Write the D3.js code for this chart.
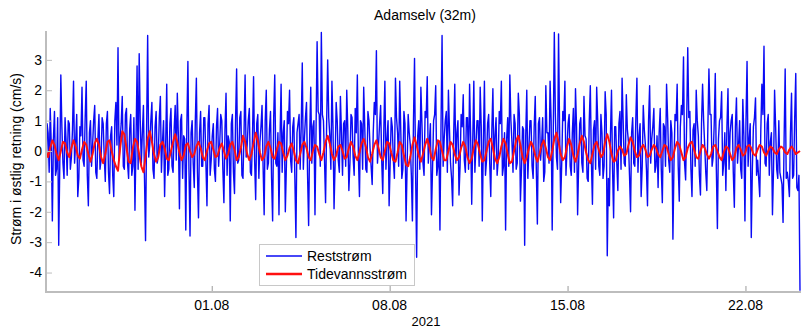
<!DOCTYPE html>
<html>
<head>
<meta charset="utf-8">
<script src="https://cdn.jsdelivr.net/npm/d3@7"></script>
<style>
  html, body { margin: 0; padding: 0; background: #fff; }
  svg { display: block; font-family: "Liberation Sans", Arial, sans-serif; }
</style>
</head>
<body>
<svg id="chart" width="801" height="329"></svg>
<script>
// ---- data ----
const title = "Adamselv (32m)";
const yLabel = "Strøm i østlig retning (cm/s)";
const xLabel = "2021";
const seriesNames = ["Reststrøm", "Tidevannsstrøm"];
const startTime = "2021-07-25T11:30:00Z";   // first sample
const stepHours = 2;                         // interval of the main samples
const xDomain = ["2021-07-25T11:30:00Z", "2021-08-24T03:30:00Z"];
const xTickDates = ["2021-08-01", "2021-08-08", "2021-08-15", "2021-08-22"];
const xTickLabels = ["01.08", "08.08", "15.08", "22.08"];
const yTicks = [-4, -3, -2, -1, 0, 1, 2, 3];
const yDomain = [-4.64, 3.95];

// Reststrøm (residual current), cm/s, samples at even hours
const reststrom = [
 -1.5, 0.6, 1.4, -2.3, 1.3, -0.6, -3.1, 2.5, -0.4, 1.1,
 -0.8, 0.9, -0.2, 2.3, 0.3, -1.5, 0.8, 2.1, -0.5, 2.3,
 -1.8, 1.0, 0.2, 1.5, -0.9, 1.2, -0.3, 0.9, -1.0, 1.3,
 -1.4, 0.8, -1.5, 1.6, 3.4, 0.4, 1.8, -0.6, 1.4, -0.9,
 1.2, -0.5, -1.95, 2.8, 3.2, -0.4, 1.5, -2.95, 3.8, 0.2,
 1.6, -0.9, 1.3, -0.2, 1.8, 0.3, -1.5, 2.2, -0.6, 1.4,
 -0.7, 1.5, 1.9, -1.9, 1.2, 0.5, -2.6, 2.95, -2.8, 1.0,
 -1.2, 2.4, -2.2, 1.3, -0.5, 1.1, -1.8, 1.5, -0.3, 0.9,
 -1.0, 1.4, 0.2, 1.0, -1.7, 1.9, 0.5, -2.3, 1.2, -1.4,
 2.7, -0.3, 1.3, -0.9, 2.5, 0.2, 1.4, -0.8, 2.45, -1.6,
 1.2, 0.3, 1.5, -2.1, 2.0, -0.4, 1.3, -2.3, 2.5, -0.5,
 -2.1, 2.2, 0.6, -2.0, 1.3, 2.0, -0.7, 1.1, -2.85, 0.9,
 -0.6, 2.9, 0.4, 1.6, -2.45, 2.1, 0.8, -2.1, 3.6, 1.2,
 3.9, 1.0, -1.7, 3.0, 0.5, 2.3, -1.9, 1.6, -0.3, 1.8,
 -0.8, 1.0, 2.0, -1.3, 1.2, -0.2, 1.4, 2.5, -1.5, 0.9,
 2.1, -0.6, 1.3, 0.1, -1.1, 1.6, 3.3, 0.2, 1.5, -1.4,
 2.3, 0.4, -1.8, 1.1, -0.3, 2.4, 0.6, 2.3, -0.9, 1.3,
 -2.3, 1.2, 0.2, -2.3, 3.05, -3.5, 1.0, 2.1, -0.4, 1.3,
 2.45, 0.3, -2.1, 1.0, 2.15, -0.5, -2.6, 3.8, 0.4, 1.3,
 2.0, -0.4, -1.8, 2.2, 0.6, -1.45, 1.2, 1.85, -0.7, 1.1,
 2.2, -1.75, 2.3, 0.2, 1.0, 2.1, -2.3, 2.3, -0.3, 1.2,
 -1.5, 2.05, 0.5, -0.8, 1.3, 2.3, -0.5, -2.6, 1.1, 2.5,
 0.3, 1.2, -0.6, 1.9, -1.65, 0.8, -3.1, 2.0, 0.1, 1.0,
 -0.9, 1.8, -2.4, 1.1, 0.2, -1.0, 2.15, 0.6, 2.3, -2.6,
 3.9, -0.2, 3.85, -1.7, 1.3, 2.3, 0.1, 1.2, -0.8, 1.4,
 2.05, -2.1, 0.9, -0.4, 1.8, 0.4, -1.0, 2.15, -1.75, 1.0,
 2.1, -0.5, 1.2, -0.9, 1.95, -3.45, -1.8, 2.0, -2.2, 0.8,
 -1.3, 1.3, 2.4, -0.4, 1.85, 0.3, -2.0, 1.1, -0.5, 2.4,
 0.5, -1.5, 1.5, 0.2, -1.8, 2.15, 0.4, 1.4, -0.5, -1.2,
 1.4, -1.7, 0.8, 2.2, -0.3, 1.0, -2.9, 1.2, 2.2, -1.65,
 1.5, 3.1, -0.95, 3.4, 1.3, -1.5, 0.9, 2.0, 0.5, -1.45,
 2.2, 0.2, -1.3, 2.7, 1.2, -0.2, 2.55, -2.55, 1.0, 1.95,
 -0.4, -1.3, 2.05, 0.6, 1.2, -1.85, 1.75, 0.2, -0.6, 1.7,
 -2.3, 2.95, 0.4, -2.85, 0.8, 1.75, -0.3, -1.5, 2.2, 3.45,
 -0.5, 1.2, 0.3, -2.1, 2.0, -0.6, 1.0, -0.9, -2.35, 2.7,
 -0.7, -1.5, 1.9, -0.8, 2.55, -1.3, -4.6
];

// Reststrøm samples at the odd hours in between (dense core of the band)
const reststromMid = [
 0.9, -0.7, 0.2, 0.4, -0.8, 1.1, -0.5, 0.8, -0.9, 0.3,
 1.0, -0.6, 0.7, -0.4, 1.2, -0.9, 0.5, -0.3, 1.1, -0.8,
 0.6, -0.5, 1.0, -0.7, 0.4, -0.6, 1.1, -0.2, 0.9, -0.7,
 0.5, -0.8, 1.0, 0.2, -0.3, 0.9, -0.5, 1.2, -0.4, 0.7,
 -0.8, 1.1, 0.3, -0.6, 1.0, 0.6, -0.9, 0.7, -0.2, 1.0,
 -0.6, 0.8, -0.4, 1.1, -0.7, 1.0, 0.2, -0.8, 0.9, -0.5,
 0.7, -0.3, 0.5, 1.0, -0.9, 0.4, 0.8, -0.6, 0.6, -0.4,
 1.0, -0.7, 0.6, -0.5, 1.1, -0.4, 0.9, -0.8, 0.5, -0.6,
 0.8, -0.5, 1.2, -0.6, 0.7, -0.8, 0.3, 0.9, -0.7, 1.0,
 -0.4, 1.1, -0.8, 0.6, -0.2, 1.0, -0.7, 0.5, -0.3, 0.9,
 -0.9, 0.8, -0.5, 1.0, -0.6, 0.7, -0.9, 1.1, -0.4, 0.6,
 0.4, -0.7, 1.0, -0.5, 0.9, -0.3, 0.8, -0.9, 0.6, 1.2,
 0.8, -0.6, 1.1, -0.8, 0.5, -0.4, 1.0, 0.7, 1.3, -0.5,
 1.2, -0.3, 0.9, 1.1, -0.6, 0.8, -0.4, 1.0, -0.7, 0.6,
 0.9, -0.5, 0.7, -0.4, 1.1, -0.8, 0.6, -0.2, 1.0, -0.6,
 0.8, -0.7, 1.0, -0.5, 0.6, 1.2, -0.4, 0.9, -0.3, 0.7,
 -0.6, 1.0, -0.4, 0.8, -0.9, 1.1, -0.5, 0.7, -0.6, 0.9,
 -0.5, 0.6, -0.8, 1.0, -0.7, 0.5, -0.6, 0.9, -0.8, 1.1,
 -0.4, 0.9, -0.6, 1.2, -0.8, 0.3, 0.8, -0.5, 1.0, -0.7,
 0.7, -0.9, 0.6, -0.4, 1.0, -0.5, 0.8, -0.3, 1.1, -0.6,
 0.5, 0.4, -0.7, 1.0, -0.5, 0.8, 0.3, -0.8, 0.9, -0.4,
 0.7, -0.6, 1.1, -0.3, 0.9, -0.8, 0.6, 0.4, -0.5, 1.0,
 -0.7, 0.9, -0.4, 1.2, -0.6, 0.7, 0.5, -0.9, 1.0, -0.5,
 0.8, -0.6, 0.9, -0.3, 1.1, -0.7, 0.6, -0.4, 1.0, 0.6,
 1.2, -0.6, 0.7, -0.4, 1.0, -0.8, 0.9, -0.5, 0.6, -0.7,
 0.8, -0.4, 1.1, -0.7, 0.5, -0.9, 1.0, -0.3, 0.7, -0.6,
 1.0, -0.8, 0.6, -0.5, 1.2, -0.9, 0.5, -0.6, 0.8, -0.4,
 0.9, -0.6, 1.0, -0.5, 0.7, -0.8, 0.6, -0.4, 1.1, -0.7,
 0.9, -0.5, 0.7, -0.6, 1.0, -0.4, 0.8, -0.7, 0.5, 0.6,
 -0.6, 0.9, -0.5, 1.1, -0.7, 0.6, -0.4, 1.0, -0.5, 0.8,
 1.2, -0.4, 1.0, 1.1, -0.6, 0.7, -0.5, 1.0, -0.8, 0.9,
 1.0, -0.7, 0.8, 1.2, -0.5, 0.9, -0.6, 0.4, 1.1, -0.8,
 0.6, 0.8, -0.6, 1.0, -0.7, 0.8, -0.4, 1.0, -0.9, 0.5,
 1.0, -0.5, 0.9, -0.6, 1.1, -0.8, -0.9, 0.7, 1.2, -0.4,
 0.9, -0.8, 0.6, -0.6, 0.8, -0.9, -0.7, -1.1, 0.4, -0.9,
 -1.0, 0.6, -0.9, 1.1, -1.2, -0.8
];

// Tidevannsstrøm (tidal current), cm/s, samples at even hours
const tidevannsstrom = [
 0.0, -0.2, 0.1, 0.35, 0.2, -0.1, -0.3, 0.0, 0.3, 0.25, -0.05, -0.2,
 0.1, 0.35, 0.15, -0.15, -0.25, 0.05, 0.3, 0.2, -0.1, -0.35, -0.1, 0.25,
 0.4, 0.2, -0.2, -0.4, -0.1, 0.3, 0.35, 0.0, -0.3, -0.5, -0.65, 0.1,
 0.65, 0.55, 0.1, -0.35, -0.4, 0.1, 0.4, 0.3, -0.1, -0.5, -0.7, -0.2,
 0.4, 0.65, 0.3, -0.1, -0.35, -0.2, 0.2, 0.3, 0.1, -0.25, -0.3, 0.0,
 0.3, 0.55, 0.3, -0.05, -0.3, -0.15, 0.2, 0.25, 0.0, -0.2, -0.1, 0.15,
 0.3, 0.1, -0.2, -0.3, 0.0, 0.25, 0.3, 0.05, -0.2, -0.15, 0.1, 0.25,
 0.0, -0.25, -0.1, 0.2, 0.3, 0.05, -0.3, -0.2, 0.1, 0.5, 0.3, -0.1,
 -0.3, -0.1, 0.25, 0.6, 0.35, -0.05, -0.3, -0.2, 0.15, 0.3, 0.1, -0.2,
 -0.25, 0.05, 0.3, 0.25, -0.05, -0.3, -0.15, 0.1, 0.25, 0.0, -0.3, -0.4,
 -0.1, 0.2, 0.3, 0.1, -0.2, -0.3, 0.0, 0.2, 0.15, -0.1, -0.3, -0.05,
 0.3, 0.5, 0.25, -0.1, -0.3, -0.15, 0.15, 0.2, 0.0, -0.25, -0.2, 0.1,
 0.3, 0.15, -0.15, -0.3, -0.05, 0.25, 0.4, 0.15, -0.2, -0.35, -0.1, 0.2,
 0.35, 0.1, -0.2, -0.3, 0.0, 0.3, 0.25, -0.05, -0.3, -0.35, -0.05, 0.3,
 0.2, -0.15, -0.45, -0.5, -0.2, 0.2, 0.45, 0.2, -0.15, -0.35, -0.1, 0.2,
 0.4, 0.15, -0.2, -0.3, 0.05, 0.35, 0.3, 0.0, -0.3, -0.3, 0.0, 0.3,
 0.2, -0.1, -0.3, -0.2, 0.1, 0.3, 0.15, -0.2, -0.4, -0.25, 0.1, 0.35,
 0.2, -0.1, -0.35, -0.3, 0.0, 0.3, 0.4, 0.1, -0.25, -0.4, -0.2, 0.15,
 0.4, 0.25, -0.1, -0.4, -0.35, 0.0, 0.35, 0.5, 0.2, -0.2, -0.4, -0.2,
 0.1, 0.3, 0.15, -0.15, -0.35, -0.1, 0.2, 0.35, 0.1, -0.2, -0.3, 0.0,
 0.4, 0.6, 0.3, -0.1, -0.3, -0.2, 0.15, 0.4, 0.2, -0.15, -0.35, -0.1,
 0.25, 0.5, 0.3, -0.05, -0.3, -0.4, -0.1, 0.2, 0.3, 0.05, -0.2, -0.1,
 0.3, 0.55, 0.3, -0.1, -0.35, -0.3, 0.0, 0.15, 0.05, -0.15, -0.1, 0.2,
 0.45, 0.3, 0.0, -0.2, -0.15, 0.1, 0.2, 0.05, -0.2, -0.15, 0.05, 0.2,
 0.1, -0.1, -0.2, 0.0, 0.2, 0.15, -0.1, -0.3, -0.2, 0.1, 0.3, 0.2,
 -0.05, -0.3, -0.2, 0.1, 0.25, 0.3, 0.05, -0.2, -0.25, 0.0, 0.2, 0.1,
 -0.1, -0.25, -0.1, 0.15, 0.2, 0.0, -0.2, -0.3, -0.05, 0.15, 0.1, -0.1,
 -0.3, -0.2, 0.1, 0.2, 0.05, -0.15, -0.1, 0.15, 0.2, 0.1, -0.1, -0.15,
 0.05, 0.2, 0.15, -0.05, -0.15, 0.0, 0.15, 0.1, -0.05, -0.1, 0.05, 0.15,
 0.1, -0.05, -0.1, 0.05, 0.15, 0.05, -0.1, -0.05, 0.0
];

const seriesColors = ["#0a0af5", "#ff1010"];

// ---- build point tables ----
const t0 = new Date(startTime).getTime();
const HOUR = 3600 * 1000;
const restPoints = [];
reststrom.forEach((v, i) => {
  restPoints.push({ t: new Date(t0 + i * stepHours * HOUR), v });
  if (i < reststromMid.length) restPoints.push({ t: new Date(t0 + (i * stepHours + 1) * HOUR), v: reststromMid[i] });
});
const tidePoints = tidevannsstrom.map((v, i) => ({ t: new Date(t0 + i * stepHours * HOUR), v }));

// ---- drawing ----
const svg = d3.select("#chart");
const mLeft = 46, mRight = 800, mTop = 31, mBottom = 292;

const x = d3.scaleUtc().domain(xDomain.map(d => new Date(d))).range([mLeft, mRight]);
const y = d3.scaleLinear().domain(yDomain).range([mBottom, mTop]);

const line = d3.line().x(d => x(d.t)).y(d => y(d.v));

const clipId = "plotclip";
svg.append("defs").append("clipPath").attr("id", clipId)
  .append("rect").attr("x", mLeft).attr("y", mTop - 2).attr("width", mRight - mLeft + 1).attr("height", mBottom - mTop + 2);

const plot = svg.append("g").attr("clip-path", `url(#${clipId})`);
plot.append("path").datum(restPoints)
  .attr("d", line).attr("fill", "none")
  .attr("stroke", seriesColors[0]).attr("stroke-width", 1.4).attr("stroke-linejoin", "round");
plot.append("path").datum(tidePoints)
  .attr("d", line).attr("fill", "none")
  .attr("stroke", seriesColors[1]).attr("stroke-width", 2).attr("stroke-linejoin", "round");

// axes
const axisColor = "#bdbdbd";
const yAxis = d3.axisRight(y).tickValues(yTicks).tickSize(6).tickFormat("");
const gy = svg.append("g").attr("transform", `translate(${mLeft},0)`).call(yAxis);
gy.select(".domain").remove();
gy.selectAll(".tick line").attr("stroke", axisColor).attr("stroke-width", 1);
svg.append("line").attr("x1", mLeft).attr("x2", mLeft).attr("y1", mTop).attr("y2", mBottom + 1)
  .attr("stroke", axisColor).attr("stroke-width", 2);

svg.append("g").selectAll("text").data(yTicks).join("text")
  .attr("x", 42).attr("y", d => y(d)).attr("dy", "0.35em")
  .attr("text-anchor", "end").attr("font-size", 14).attr("fill", "#000")
  .text(d => d < 0 ? "-" + Math.abs(d) : String(d));

const xTickVals = xTickDates.map(d => new Date(d + "T00:00:00Z"));
const xAxis = d3.axisTop(x).tickValues(xTickVals).tickSize(6).tickFormat("");
const gx = svg.append("g").attr("transform", `translate(0,${mBottom})`).call(xAxis);
gx.select(".domain").remove();
gx.selectAll(".tick line").attr("stroke", "#9a9a9a").attr("stroke-width", 1);
svg.append("line").attr("x1", mLeft - 1).attr("x2", mRight + 1).attr("y1", mBottom).attr("y2", mBottom)
  .attr("stroke", axisColor).attr("stroke-width", 2);

svg.append("g").selectAll("text").data(xTickVals).join("text")
  .attr("x", d => x(d)).attr("y", 310)
  .attr("text-anchor", "middle").attr("font-size", 14).attr("fill", "#000")
  .text((d, i) => xTickLabels[i]);

// labels
svg.append("text").attr("x", 425).attr("y", 20).attr("text-anchor", "middle")
  .attr("font-size", 14).attr("fill", "#000").text(title);
svg.append("text").attr("x", 426).attr("y", 326).attr("text-anchor", "middle")
  .attr("font-size", 13).attr("fill", "#000").text(xLabel);
svg.append("text").attr("transform", "translate(21,159) rotate(-90)")
  .attr("text-anchor", "middle").attr("font-size", 14).attr("fill", "#000").text(yLabel);

// legend
const lg = svg.append("g");
lg.append("rect").attr("x", 259.5).attr("y", 244.5).attr("width", 155).attr("height", 41)
  .attr("fill", "#fff").attr("stroke", "#c8c8c8").attr("stroke-width", 1);
seriesNames.forEach((name, i) => {
  const yy = 256 + i * 18;
  lg.append("line").attr("x1", 266).attr("x2", 302).attr("y1", yy).attr("y2", yy)
    .attr("stroke", seriesColors[i]).attr("stroke-width", i === 0 ? 1.5 : 2.5);
  lg.append("text").attr("x", 307).attr("y", yy).attr("dy", "0.35em")
    .attr("font-size", 14).attr("fill", "#000").text(name);
});
</script>
</body>
</html>
